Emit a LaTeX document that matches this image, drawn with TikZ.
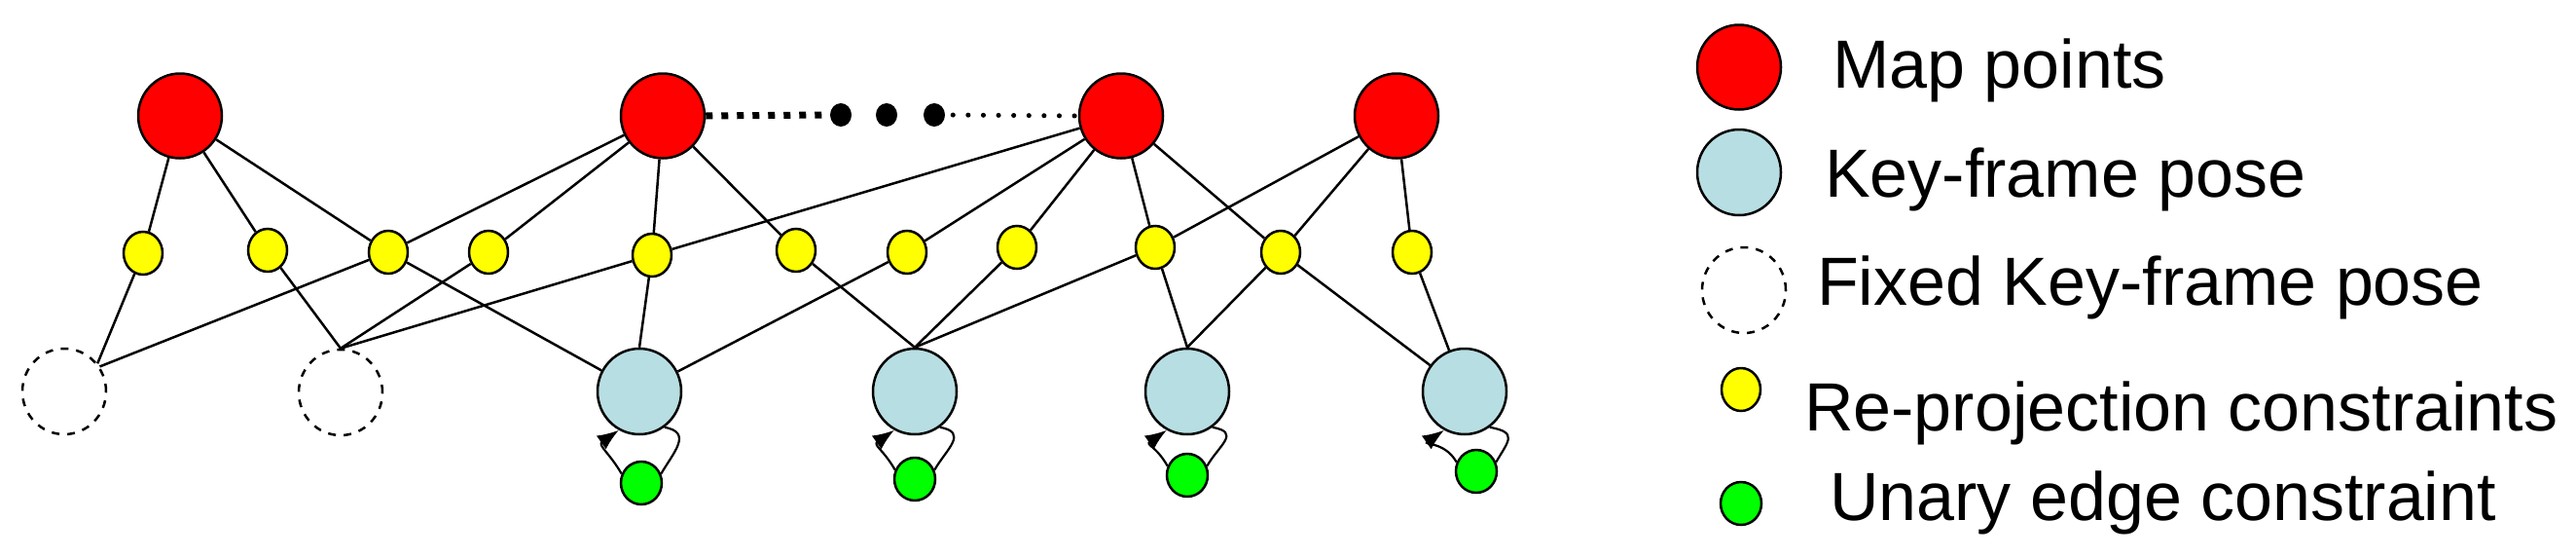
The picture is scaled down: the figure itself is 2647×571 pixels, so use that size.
\documentclass[tikz,border=0pt]{standalone}
\usepackage{fontspec}
\setmainfont{Liberation Sans}
\usetikzlibrary{shapes.geometric,arrows.meta}
\definecolor{mapred}{RGB}{255,0,0}
\definecolor{kfblue}{RGB}{183,222,226}
\definecolor{reproj}{RGB}{255,255,0}
\definecolor{unary}{RGB}{0,255,0}
\begin{document}
\begin{tikzpicture}[x=1pt,y=1pt,
  mp/.style={ellipse,draw,line width=2.5pt,fill=mapred,minimum width=86pt,minimum height=87pt,inner sep=0pt},
  kf/.style={ellipse,draw,line width=2.5pt,fill=kfblue,minimum width=86pt,minimum height=88pt,inner sep=0pt},
  fkf/.style={ellipse,draw,line width=2.5pt,dash pattern=on 8pt off 8pt,minimum width=86pt,minimum height=88pt,inner sep=0pt},
  rp/.style={ellipse,draw,line width=2.5pt,fill=reproj,minimum width=40pt,minimum height=44pt,inner sep=0pt},
  ue/.style={ellipse,draw,line width=2.5pt,fill=unary,minimum width=42pt,minimum height=44pt,inner sep=0pt},
  bigdot/.style={ellipse,fill=black,minimum width=22pt,minimum height=24pt,inner sep=0pt},
  link/.style={line width=2.5pt},
  loopline/.style={line width=2.2pt},
  lbl/.style={anchor=base west,inner sep=0pt,font=\fontsize{70}{80}\selectfont}
]
\useasboundingbox (0,0) rectangle (2647,-571);

% map points
\node[mp] (r1) at (185,-119) {};
\node[mp] (r2) at (681,-119) {};
\node[mp] (r3) at (1152,-119) {};
\node[mp] (r4) at (1435,-119) {};
% dots
\node[bigdot] (d1) at (864,-118) {};
\node[bigdot] (d2) at (911,-118) {};
\node[bigdot] (d3) at (960,-118) {};
% reprojection constraints
\node[rp] (y1) at (147,-260) {};
\node[rp] (y2) at (275,-257) {};
\node[rp] (y3) at (399,-259) {};
\node[rp] (y4) at (502,-259) {};
\node[rp] (y5) at (670,-262) {};
\node[rp] (y6) at (818,-257) {};
\node[rp] (y7) at (932,-259) {};
\node[rp] (y8) at (1045,-254) {};
\node[rp] (y9) at (1187,-254) {};
\node[rp] (y10) at (1316,-259) {};
\node[rp] (y11) at (1451,-259) {};
% fixed key-frames
\node[fkf] (f1) at (66,-402) {};
\node[fkf] (f2) at (350,-403) {};
% key-frames
\node[kf] (k1) at (657,-402) {};
\node[kf] (k2) at (940,-402) {};
\node[kf] (k3) at (1220,-402) {};
\node[kf] (k4) at (1505,-402) {};
% unary
\node[ue] (g1) at (659,-496) {};
\node[ue] (g2) at (940,-492) {};
\node[ue] (g3) at (1220,-488) {};
\node[ue] (g4) at (1517,-484) {};

% dotted links between map points
\draw[line width=7pt,dash pattern=on 7pt off 9pt] (r2.east) -- (d1.west);
\draw[line width=5pt,line cap=round,dash pattern=on 0.1pt off 15.5pt,dash phase=-8pt] (d3.east) -- (r3.west);

% edges
\draw[link] (r1) -- (y1);
\draw[link] (r1) -- (y2);
\draw[link] (r1) -- (y3);
\draw[link] (r2) -- (y3);
\draw[link] (r2) -- (y4);
\draw[link] (r2) -- (y5);
\draw[link] (r2) -- (y6);
\draw[link] (r3) -- (y5);
\draw[link] (r3) -- (y7);
\draw[link] (r3) -- (y8);
\draw[link] (r3) -- (y9);
\draw[link] (r3) -- (y10);
\draw[link] (r4) -- (y9);
\draw[link] (r4) -- (y10);
\draw[link] (r4) -- (y11);
\draw[link] (y1) -- (f1.40);
\draw[link] (y3) -- (f1.35);
\draw[link] (y2) -- (f2.north);
\draw[link] (y4) -- (f2.north);
\draw[link] (y5) -- (f2.north);
\draw[link] (y3) -- (k1);
\draw[link] (y5) -- (k1.north);
\draw[link] (y7) -- (k1);
\draw[link] (y6) -- (k2.north);
\draw[link] (y8) -- (k2.north);
\draw[link] (y9) -- (k2.north);
\draw[link] (y9) -- (k3.north);
\draw[link] (y10) -- (k3.north);
\draw[link] (y10) -- (k4);
\draw[link] (y11) -- (k4);

% self loops through unary constraints
\foreach \i in {1,...,4}{
  \draw[loopline] (k\i.-55) .. controls +(-10:30) and +(60:25) .. (g\i.25);
  \draw[loopline,-{Latex[length=22pt,width=17pt]}] (g\i.155) .. controls +(120:25) and +(-145:27) .. (k\i.-118);
}

% legend
\node[mp] (lr) at (1787,-69) {};
\node[kf] (lk) at (1787,-177) {};
\node[fkf] (lf) at (1792,-298) {};
\node[rp] (ly) at (1789,-400) {};
\node[ue] (lg) at (1789,-517) {};
\node[lbl] (tr) at (1883,-90) {Map points};
\node[lbl] (tk) at (1875,-202) {Key-frame pose};
\node[lbl] (tf) at (1867,-313) {Fixed Key-frame pose};
\node[lbl] (ty) at (1854,-442) {Re-projection constraints};
\node[lbl] (tg) at (1880,-534) {Unary edge constraint};
\end{tikzpicture}
\end{document}
